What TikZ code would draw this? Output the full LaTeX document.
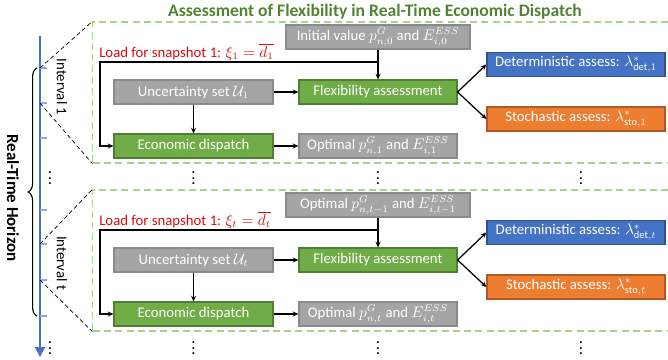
\documentclass[tikz,border=0pt]{standalone}
\usepackage{fontspec}
\setmainfont{Carlito}
\usetikzlibrary{positioning, arrows.meta, decorations.pathreplacing}
\definecolor{offgray}{HTML}{A5A5A5}
\definecolor{offgrayd}{HTML}{8A8A8A}
\definecolor{offgreen}{HTML}{70AD47}
\definecolor{offgreend}{HTML}{507E32}
\definecolor{offblue}{HTML}{4472C4}
\definecolor{offblued}{HTML}{2F528F}
\definecolor{offorange}{HTML}{ED7D31}
\definecolor{offoranged}{HTML}{AE5A21}
\definecolor{titlegreen}{HTML}{548235}
\definecolor{dashgreen}{HTML}{A9D18E}
\definecolor{loadred}{HTML}{D01010}
\definecolor{ticblue}{HTML}{8FAADC}

\begin{document}
\begin{tikzpicture}[
    x=0.025cm, y=-0.025cm,
    every node/.style={font=\fontsize{10.5}{12}\selectfont},
    box/.style={draw, thick, minimum height=0.6cm, text=white, inner sep=1pt},
    graybox/.style={box, fill=offgray, draw=offgrayd},
    greenbox/.style={box, fill=offgreen, draw=offgreend},
    bluebox/.style={box, fill=offblue, draw=offblued, minimum width=4.45cm},
    orangebox/.style={box, fill=offorange, draw=offoranged, minimum width=4.45cm},
    ivbox/.style={draw=dashgreen, line width=0.8pt, dash pattern=on 5pt off 3pt,
      minimum width=14.425cm, minimum height=3.525cm, inner sep=0pt},
    link/.style={line width=0.9pt},
    zoomline/.style={densely dashed, line width=0.5pt},
    loadlbl/.style={text=loadred, anchor=west, inner sep=0pt},
    dotsn/.style={font=\large},
    >={Stealth[length=4pt, width=3.5pt]},
  ]
  \useasboundingbox (0,0) rectangle (668,360);

  % Title
  \node[font=\fontsize{12.5}{14}\selectfont\bfseries, text=titlegreen] (ttl) at (375,12)
    {Assessment of Flexibility in Real-Time Economic Dispatch};

  % Time axis
  \draw[offblue, line width=1.2pt, -{Triangle[length=7pt, width=7pt]}] (40,36) -- (40,357);
  \foreach \y in {68,103,138,210,244,280,316}
    \draw[ticblue, line width=0.8pt] (40,\y) -- (47,\y);
  \coordinate (a1) at (40,68);
  \coordinate (b1) at (40,103);
  \coordinate (at) at (40,244);
  \coordinate (bt) at (40,280);
  \draw[decorate, decoration={brace, amplitude=0.22cm}, line width=0.8pt] (37,316) -- (37,68);
  \node[font=\fontsize{12}{14}\selectfont\bfseries, rotate=-90] (hor) at (13,198) {Real-Time Horizon};
  \node[rotate=-90] (int1) at (62,87) {Interval 1};
  \node[rotate=-90] (intt) at (62,263) {Interval t};

  % Interval 1
  \node[ivbox] (iv1) at (381.5,92.5) {};
  \draw[zoomline] (a1) -- (iv1.north west);
  \draw[zoomline] (b1) -- (iv1.south west);
  \node[graybox, minimum width=4.6cm] (init1) at (378,37)
    {Initial value $p^{G}_{n,0}$ and $E^{ESS}_{i,0}$};
  \node[loadlbl] (load1) at (99,52) {Load for snapshot 1: $\xi_1=\overline{d_1}$};
  \node[graybox, minimum width=3.975cm] (unc1) at (193.5,92) {Uncertainty set $\mathcal{U}_1$};
  \node[greenbox, minimum width=3.95cm] (flex1) at (378,92) {Flexibility assessment};
  \node[greenbox, minimum width=3.975cm] (ed1) at (193.5,146) {Economic dispatch};
  \node[graybox, minimum width=3.95cm] (opt1) at (378,146)
    {Optimal $p^{G}_{n,1}$ and $E^{ESS}_{i,1}$};
  \node[bluebox] (det1) at (576,64.5) {Deterministic assess: $\lambda^{*}_{\mathrm{det},1}$};
  \node[orangebox] (sto1) at (576,119) {Stochastic assess: $\lambda^{*}_{\mathrm{sto},1}$};
  \coordinate (j1) at (378,62);
  \coordinate (c1) at (100,62);
  \draw[link, ->] (init1) -- (flex1);
  \draw[link, ->] (j1) -- (c1) |- (ed1.west);
  \draw[link, ->] (unc1) -- (flex1);
  \draw[link, ->] (unc1) -- (ed1);
  \draw[link, ->] (ed1) -- (opt1);
  \draw[link, ->] (flex1.east) -- (det1.west);
  \draw[link, ->] (flex1.east) -- (sto1.west);

  % Dots between intervals
  \node[dotsn] (dl1) at (50,174) {$\vdots$};
  \node[dotsn] (du1) at (193.5,174) {$\vdots$};
  \node[dotsn] (dm1) at (378,174) {$\vdots$};
  \node[dotsn] (dr1) at (581,174) {$\vdots$};

  % Interval t
  \node[ivbox] (ivt) at (381.5,260.5) {};
  \draw[zoomline] (at) -- (ivt.north west);
  \draw[zoomline] (bt) -- (ivt.south west);
  \node[graybox, minimum width=4.6cm] (initt) at (378,205)
    {Optimal $p^{G}_{n,t-1}$ and $E^{ESS}_{i,t-1}$};
  \node[loadlbl] (loadt) at (99,220) {Load for snapshot 1: $\xi_t=\overline{d_t}$};
  \node[graybox, minimum width=3.975cm] (unct) at (193.5,260) {Uncertainty set $\mathcal{U}_t$};
  \node[greenbox, minimum width=3.95cm] (flext) at (378,260) {Flexibility assessment};
  \node[greenbox, minimum width=3.975cm] (edt) at (193.5,314) {Economic dispatch};
  \node[graybox, minimum width=3.95cm] (optt) at (378,314)
    {Optimal $p^{G}_{n,t}$ and $E^{ESS}_{i,t}$};
  \node[bluebox] (dett) at (576,232.5) {Deterministic assess: $\lambda^{*}_{\mathrm{det},t}$};
  \node[orangebox] (stot) at (576,287) {Stochastic assess: $\lambda^{*}_{\mathrm{sto},t}$};
  \coordinate (jt) at (378,230);
  \coordinate (ct) at (100,230);
  \draw[link, ->] (initt) -- (flext);
  \draw[link, ->] (jt) -- (ct) |- (edt.west);
  \draw[link, ->] (unct) -- (flext);
  \draw[link, ->] (unct) -- (edt);
  \draw[link, ->] (edt) -- (optt);
  \draw[link, ->] (flext.east) -- (dett.west);
  \draw[link, ->] (flext.east) -- (stot.west);

  % Dots at the end
  \node[dotsn] (dl2) at (50,344) {$\vdots$};
  \node[dotsn] (du2) at (193.5,344) {$\vdots$};
  \node[dotsn] (dm2) at (378,344) {$\vdots$};
  \node[dotsn] (dr2) at (581,344) {$\vdots$};
\end{tikzpicture}
\end{document}
